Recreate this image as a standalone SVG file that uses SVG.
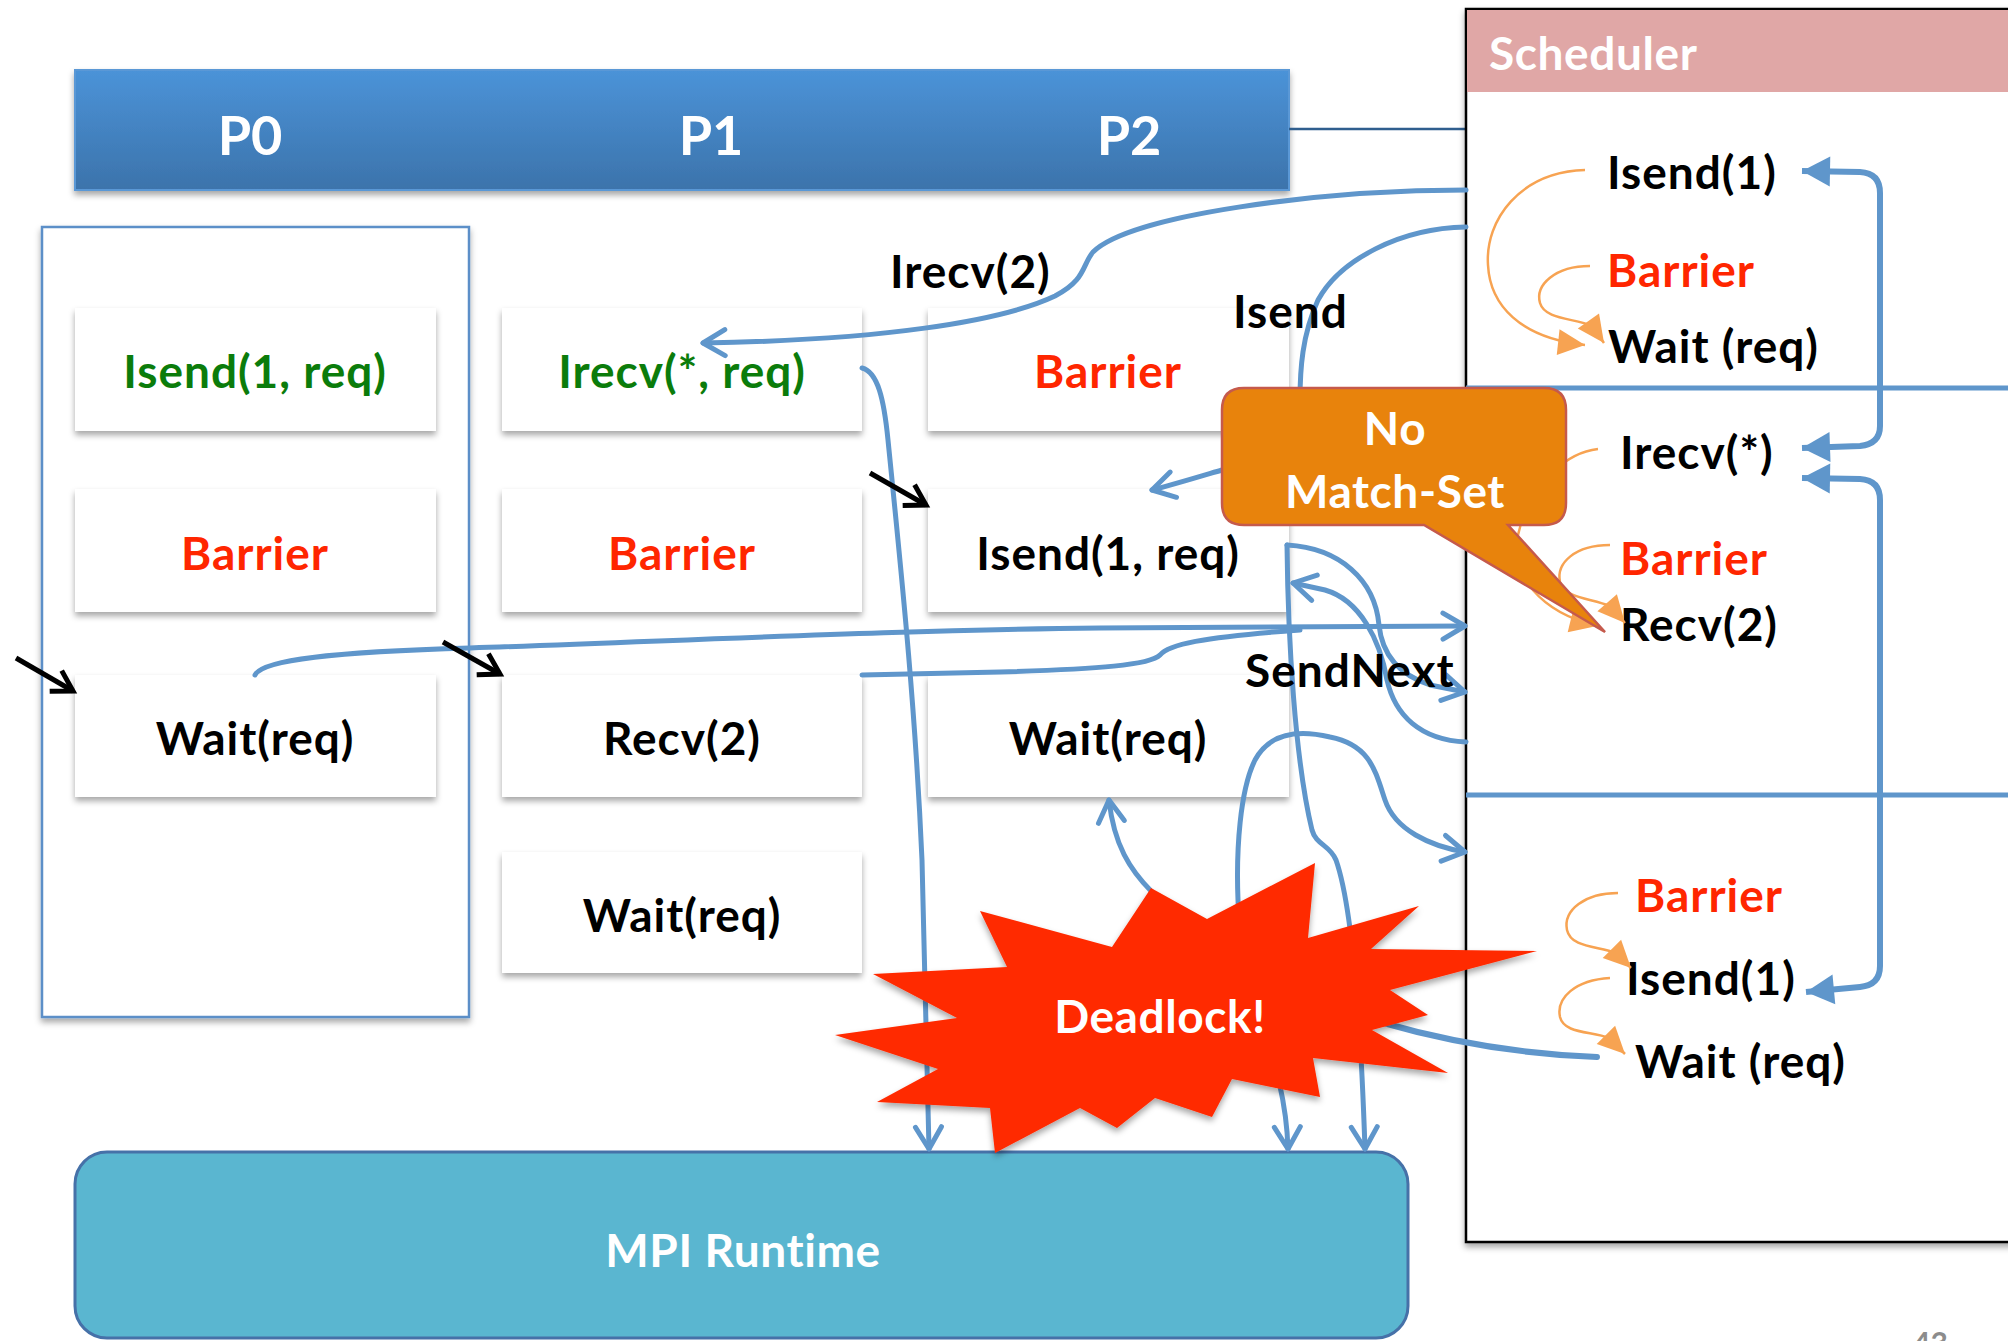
<svg xmlns="http://www.w3.org/2000/svg" width="2008" height="1341" viewBox="0 0 2008 1341">
<style>
  text { font-family: Lato, "Open Sans", "Liberation Sans", sans-serif; font-weight: bold; }
  .node rect { fill: #ffffff; filter: url(#sh); }
  .t { font-size: 46px; letter-spacing: 1px; text-anchor: middle; }
  .s { font-size: 46px; letter-spacing: 1px; }
  .w { font-size: 46px; letter-spacing: 0.6px; fill: #ffffff; }
  .blk { fill: #000000; }
  .red { fill: #ff2600; }
  .grn { fill: #0b7c0b; }
  .wht { fill: #ffffff; }
  .conn { fill: none; stroke: #5f96cb; stroke-width: 5; stroke-linecap: round; }
  .bigc { fill: none; stroke: #5f96cb; stroke-width: 6; }
  .org { fill: none; stroke: #f7a352; stroke-width: 2.5; }
  .ptr { fill: none; stroke: #000; stroke-width: 5; }
</style>
<defs>
  <filter id="sh" x="-10%" y="-10%" width="120%" height="130%">
    <feDropShadow dx="0" dy="4" stdDeviation="3" flood-color="#000" flood-opacity="0.35"/>
  </filter>
  <linearGradient id="hdr" x1="0" y1="0" x2="0" y2="1">
    <stop offset="0" stop-color="#4b93d8"/>
    <stop offset="1" stop-color="#3c73ab"/>
  </linearGradient>
  <marker id="av" markerUnits="userSpaceOnUse" markerWidth="40" markerHeight="40" viewBox="-30 -20 40 40" refX="0" refY="0" orient="auto-start-reverse">
    <path d="M-22,-13 L0,0 L-22,13" fill="none" stroke="#5f96cb" stroke-width="5" stroke-linecap="round" stroke-linejoin="round"/>
  </marker>
  <marker id="ab" markerUnits="userSpaceOnUse" markerWidth="40" markerHeight="40" viewBox="-34 -20 40 40" refX="0" refY="0" orient="auto-start-reverse">
    <path d="M0,0 L-28,-15 L-28,15 Z" fill="#5f96cb"/>
  </marker>
  <marker id="ao" markerUnits="userSpaceOnUse" markerWidth="40" markerHeight="40" viewBox="-34 -20 40 40" refX="0" refY="0" orient="auto">
    <path d="M0,0 L-27,-13 L-27,13 Z" fill="#f7a352"/>
  </marker>
  <marker id="ak" markerUnits="userSpaceOnUse" markerWidth="40" markerHeight="40" viewBox="-30 -20 40 40" refX="0" refY="0" orient="auto">
    <path d="M-20,-12 L0,0 L-20,12" fill="none" stroke="#000" stroke-width="5" stroke-linejoin="miter"/>
  </marker>
</defs>
<rect x="0" y="0" width="2008" height="1341" fill="#ffffff"/>

<g id="process-header">
  <rect x="75" y="70" width="1214" height="120" fill="url(#hdr)" stroke="#5a98d6" stroke-width="2" filter="url(#sh)"/>
  <text x="250" y="155" class="wht" font-size="54" text-anchor="middle">P0</text>
  <text x="711" y="155" class="wht" font-size="54" text-anchor="middle">P1</text>
  <text x="1129" y="155" class="wht" font-size="54" text-anchor="middle">P2</text>
  <line x1="1289" y1="129" x2="1466" y2="129" stroke="#2f5e8e" stroke-width="2.5"/>
</g>

<g id="p0-frame">
  <rect x="42" y="227" width="427" height="790" fill="#ffffff" stroke="#5b8fc8" stroke-width="2.5" filter="url(#sh)"/>
</g>

<g id="p0-isend" class="node"><rect x="75" y="308" width="361" height="123"/><text x="255" y="388" class="t grn">Isend(1, req)</text></g>
<g id="p0-barrier" class="node"><rect x="75" y="489" width="361" height="123"/><text x="255" y="570" class="t red">Barrier</text></g>
<g id="p0-wait" class="node"><rect x="75" y="675" width="361" height="122"/><text x="255" y="755" class="t blk">Wait(req)</text></g>

<g id="p1-irecv" class="node"><rect x="502" y="308" width="360" height="123"/><text x="682" y="388" class="t grn">Irecv(*, req)</text></g>
<g id="p1-barrier" class="node"><rect x="502" y="489" width="360" height="123"/><text x="682" y="570" class="t red">Barrier</text></g>
<g id="p1-recv" class="node"><rect x="502" y="675" width="360" height="122"/><text x="682" y="755" class="t blk">Recv(2)</text></g>
<g id="p1-wait" class="node"><rect x="502" y="852" width="360" height="121"/><text x="682" y="932" class="t blk">Wait(req)</text></g>

<g id="p2-barrier" class="node"><rect x="928" y="308" width="361" height="123"/><text x="1108" y="388" class="t red">Barrier</text></g>
<g id="p2-isend" class="node"><rect x="928" y="489" width="361" height="123"/><text x="1108" y="570" class="t blk">Isend(1, req)</text></g>
<g id="p2-wait" class="node"><rect x="928" y="675" width="361" height="122"/><text x="1108" y="755" class="t blk">Wait(req)</text></g>

<g id="scheduler">
  <rect x="1466" y="9" width="600" height="1233" fill="#ffffff" stroke="#000" stroke-width="2.5" filter="url(#sh)"/>
  <rect x="1467" y="10" width="560" height="82" fill="#e0a7a6"/>
  <text x="1489" y="70" class="w">Scheduler</text>
  <line x1="1466" y1="388" x2="2008" y2="388" stroke="#5f96cb" stroke-width="5"/>
  <line x1="1466" y1="795" x2="2008" y2="795" stroke="#5f96cb" stroke-width="5"/>
  <text x="1607" y="189" class="s blk">Isend(1)</text>
  <text x="1607" y="287" class="s red">Barrier</text>
  <text x="1608" y="363" class="s blk">Wait (req)</text>
  <text x="1620" y="469" class="s blk">Irecv(*)</text>
  <text x="1620" y="575" class="s red">Barrier</text>
  <text x="1620" y="641" class="s blk">Recv(2)</text>
  <text x="1635" y="912" class="s red">Barrier</text>
  <text x="1626" y="995" class="s blk">Isend(1)</text>
  <text x="1635" y="1078" class="s blk">Wait (req)</text>
</g>

<g id="mpi-runtime">
  <rect x="75" y="1152" width="1333" height="186" rx="32" fill="#5ab6d0" stroke="#4671a8" stroke-width="3"/>
  <text x="743" y="1267" class="w" text-anchor="middle">MPI Runtime</text>
</g>

<g id="connectors">
  <path class="org" d="M1585,170 C1520,172 1485,220 1488,265 C1490,305 1520,338 1585,345" marker-end="url(#ao)"/>
  <path class="org" d="M1590,266 C1555,266 1535,285 1540,303 C1545,320 1575,318 1592,326 L1604,343" marker-end="url(#ao)"/>
  <path class="org" d="M1598,449 C1570,452 1530,480 1518,535 C1510,575 1540,612 1597,626" marker-end="url(#ao)"/>
  <path class="org" d="M1610,545 C1575,545 1556,563 1560,582 C1564,598 1590,598 1610,606 L1625,623" marker-end="url(#ao)"/>
  <path class="org" d="M1618,893 C1585,893 1563,910 1567,930 C1571,948 1598,946 1616,953 L1631,968" marker-end="url(#ao)"/>
  <path class="org" d="M1610,978 C1575,980 1556,998 1560,1017 C1564,1034 1592,1031 1609,1038 L1625,1054" marker-end="url(#ao)"/>

  <path class="bigc" d="M1802,171 L1860,172 Q1880,173 1880,193 L1880,426 Q1880,444 1860,446 L1802,448" marker-start="url(#ab)" marker-end="url(#ab)"/>
  <path class="bigc" d="M1802,478 L1860,479 Q1880,480 1880,500 L1880,966 Q1880,985 1860,987 L1806,992" marker-start="url(#ab)" marker-end="url(#ab)"/>

  <path class="conn" d="M1466,190 C1320,190 1130,215 1093,252 C1082,265 1086,280 1055,296 C1000,322 880,340 703,343" marker-end="url(#av)"/>
  <path class="conn" d="M1466,227 C1400,228 1340,260 1318,300 C1302,335 1300,370 1300,400 C1300,440 1260,460 1222,470 C1195,478 1172,485 1152,490" marker-end="url(#av)"/>
  <path class="conn" d="M862,368 C878,372 884,400 888,440 C900,560 915,700 922,860 L929,1149" marker-end="url(#av)"/>
  <path class="conn" d="M255,675 C262,660 330,652 470,648 C700,640 900,630 1100,628 L1465,626" marker-end="url(#av)"/>
  <path class="conn" d="M862,675 L1000,672 C1100,669 1150,665 1160,655 C1168,645 1200,637 1300,630"/>
  <path class="conn" d="M1287,545 C1340,548 1375,580 1379,625 C1382,655 1400,675 1430,685 L1465,692" marker-end="url(#av)"/>
  <path class="conn" d="M1287,545 C1288,640 1295,760 1312,830 C1316,845 1330,845 1336,860 C1350,900 1360,1000 1365,1149" marker-end="url(#av)"/>
  <path class="conn" d="M1466,742 C1420,740 1395,715 1387,680 C1380,640 1360,600 1325,590 L1293,583" marker-end="url(#av)"/>
  <path class="conn" d="M1465,852 C1430,846 1395,830 1385,800 C1375,770 1370,745 1330,737 C1300,730 1270,732 1255,760 C1240,790 1236,850 1238,900 C1240,1000 1285,1050 1288,1149" marker-start="url(#av)" marker-end="url(#av)"/>
  <path class="conn" d="M1152,892 C1130,870 1114,845 1109,800" marker-end="url(#av)"/>
  <path class="conn" d="M1597,1057 C1540,1055 1470,1048 1380,1022" style="stroke-width:6"/>
</g>

<g id="deadlock">
  <polygon points="980,911 1112,947 1151,888 1207,919 1315,863 1308,938 1419,906 1371,949 1537,951 1390,990 1428,1015 1372,1030 1448,1073 1313,1058 1320,1097 1232,1079 1212,1117 1155,1098 1117,1128 1080,1108 995,1153 990,1108 877,1102 938,1069 835,1035 957,1018 873,974 1007,967" fill="#ff2a00" filter="url(#sh)"/>
  <text x="1160" y="1033" class="w" text-anchor="middle">Deadlock!</text>
</g>

<g id="no-match-set">
  <path d="M1244,388 H1544 Q1566,388 1566,410 V503 Q1566,525 1544,525 H1508 L1605,632 L1424,525 H1244 Q1222,525 1222,503 V410 Q1222,388 1244,388 Z" fill="#e8830c" stroke="#c55a4c" stroke-width="2.5"/>
  <text x="1395" y="445" class="w" text-anchor="middle">No</text>
  <text x="1395" y="508" class="w" text-anchor="middle">Match-Set</text>
</g>

<g id="labels">
  <text x="890" y="288" class="s blk">Irecv(2)</text>
  <text x="1233" y="328" class="s blk">Isend</text>
  <text x="1245" y="687" class="s blk">SendNext</text>
</g>

<g id="pointers">
  <line class="ptr" x1="16" y1="658" x2="73" y2="691" marker-end="url(#ak)"/>
  <line class="ptr" x1="443" y1="642" x2="500" y2="674" marker-end="url(#ak)"/>
  <line class="ptr" x1="870" y1="473" x2="926" y2="505" marker-end="url(#ak)"/>
</g>

<text x="1913" y="1354" font-size="30" fill="#8c8c8c" font-weight="normal">43</text>
</svg>
